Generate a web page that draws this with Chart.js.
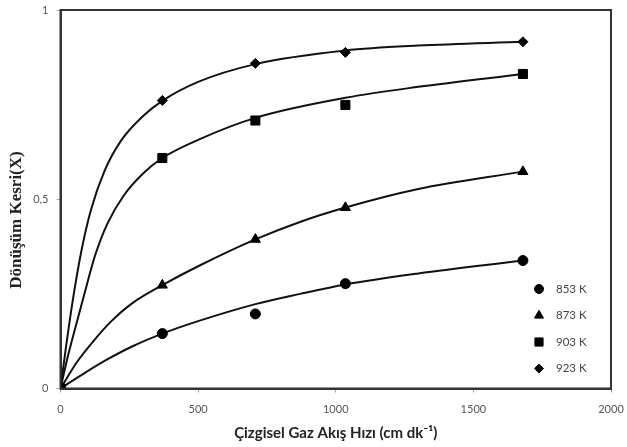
<!DOCTYPE html>
<html>
<head>
<meta charset="utf-8">
<script src="https://cdn.jsdelivr.net/npm/chart.js@4.4.1/dist/chart.umd.min.js"></script>
<style>
  html, body { margin: 0; padding: 0; background: #fff; }
  #kutu { width: 627px; height: 447px; }
</style>
</head>
<body>
<div id="kutu"><canvas id="grafik"></canvas></div>
<script>
// olcum noktalari
const hizlar = [0, 370, 708, 1035, 1680];
const seriler = ['853 K', '873 K', '903 K', '923 K'];
const olcum853 = [0, 0.145, 0.197, 0.277, 0.338];
const olcum873 = [0, 0.273, 0.394, 0.478, 0.573];
const olcum903 = [0, 0.609, 0.708, 0.749, 0.831];
const olcum923 = [0, 0.761, 0.859, 0.888, 0.916];

// fit egrileri (resimden okunan noktalar)
const egriX853 = [0, 90, 173, 260, 370, 500, 708, 870, 1035, 1300, 1680];
const egriY853 = [0, 0.042, 0.078, 0.111, 0.145, 0.178, 0.223, 0.25, 0.275, 0.304, 0.338];
const egriX873 = [0, 60, 125, 185, 260, 370, 500, 708, 870, 1035, 1300, 1680];
const egriY873 = [0, 0.07, 0.13, 0.178, 0.225, 0.273, 0.323, 0.394, 0.44, 0.478, 0.527, 0.573];
const egriX903 = [0, 25, 50, 85, 125, 170, 230, 300, 370, 500, 708, 1035, 1300, 1680];
const egriY903 = [0, 0.08, 0.15, 0.245, 0.35, 0.435, 0.51, 0.568, 0.609, 0.657, 0.715, 0.768, 0.797, 0.831];
const egriX923 = [0, 20, 45, 75, 110, 160, 220, 300, 370, 500, 708, 1035, 1300, 1680];
const egriY923 = [0, 0.11, 0.235, 0.36, 0.47, 0.575, 0.655, 0.72, 0.76, 0.81, 0.857, 0.893, 0.906, 0.916];

const yBaslik = 'Dönüşüm Kesri(X)';
const xBaslik = 'Çizgisel Gaz Akış Hızı (cm dk⁻¹)';

const stiller = ['circle', 'triangle', 'rect', 'rectRot'];
const boyutlar = [5, 5.8, 6.4, 5];

function noktala(xs, ys) {
    return xs.map((x, i) => ({ x: x, y: ys[i] }));
}

const olcumler = [olcum853, olcum873, olcum903, olcum923];
const egriler = [
    [egriX853, egriY853],
    [egriX873, egriY873],
    [egriX903, egriY903],
    [egriX923, egriY923]
];

let datasets = [];
seriler.forEach((ad, i) => {
    datasets.push({
        label: ad,
        data: noktala(hizlar, olcumler[i]),
        pointStyle: stiller[i],
        pointRadius: boyutlar[i],
        backgroundColor: '#000',
        borderColor: '#000',
        borderWidth: 1,
        showLine: false,
        order: 0
    });
    datasets.push({
        label: ad + ' fit',
        data: noktala(egriler[i][0], egriler[i][1]),
        showLine: true,
        pointRadius: 0,
        borderColor: '#111',
        borderWidth: 2,
        cubicInterpolationMode: 'monotone',
        fill: false,
        order: 1
    });
});

// lejant, cerceve ve y basligi
const ozelLejant = {
    id: 'ozelLejant',
    afterDatasetsDraw(chart) {
        const ctx = chart.ctx;
        const ca = chart.chartArea;
        ctx.save();
        seriler.forEach((ad, i) => {
            const y = ca.bottom - 99.5 + i * 26.5;
            const x = ca.right - 72;
            ctx.fillStyle = '#000';
            ctx.strokeStyle = '#000';
            ctx.lineWidth = 1;
            Chart.helpers.drawPoint(ctx, { pointStyle: stiller[i], radius: boyutlar[i] * 0.9, rotation: 0, borderWidth: 1 }, x, y);
            ctx.fillStyle = '#444';
            ctx.font = '11.5px Lato';
            ctx.textBaseline = 'middle';
            ctx.textAlign = 'left';
            ctx.fillText(ad, x + 17, y);
        });
        ctx.strokeStyle = '#333';
        ctx.lineWidth = 2;
        ctx.strokeRect(ca.left, ca.top, ca.right - ca.left, ca.bottom - ca.top);

        // y ekseni basligi (biraz asagida ortalanmis)
        ctx.translate(17, 220);
        ctx.rotate(-Math.PI / 2);
        ctx.fillStyle = '#222';
        ctx.font = 'bold 17px "Liberation Serif"';
        ctx.textAlign = 'center';
        ctx.textBaseline = 'middle';
        ctx.fillText(yBaslik, 0, 0);
        ctx.restore();
    }
};

const grafik = document.getElementById('grafik').getContext('2d');
const myChart = new Chart(grafik, {
    type: 'scatter',
    data: { datasets: datasets },
    plugins: [ozelLejant],
    options: {
        responsive: true,
        maintainAspectRatio: false,
        animation: false,
        layout: { padding: { top: 10, right: 16, left: 0, bottom: 0 } },
        plugins: {
            legend: { display: false },
            tooltip: { enabled: false }
        },
        scales: {
            x: {
                min: 0,
                max: 2000,
                afterFit: (s) => { s.height = 58.5; s.paddingLeft = 0; s.paddingRight = 0; },
                ticks: {
                    stepSize: 500,
                    color: '#555',
                    font: { family: 'Lato', size: 11 },
                    padding: 10,
                    callback: (v) => String(v)
                },
                grid: { drawOnChartArea: false, drawTicks: true, tickLength: 4, color: '#aaa' },
                border: { color: '#333', width: 2 },
                title: {
                    display: true,
                    text: xBaslik,
                    color: '#222',
                    font: { family: 'Lato', size: 15, weight: 'bold' },
                    padding: { top: 0, bottom: 5 }
                }
            },
            y: {
                min: 0,
                max: 1,
                afterFit: (s) => { s.width = 60.5; s.paddingTop = 0; s.paddingBottom = 0; },
                ticks: {
                    stepSize: 0.5,
                    color: '#555',
                    font: { family: 'Lato', size: 11 },
                    padding: 8,
                    callback: (v) => v.toString().replace('.', ',')
                },
                grid: { drawOnChartArea: false, drawTicks: true, tickLength: 4, color: '#aaa' },
                border: { color: '#333', width: 2 }
            }
        }
    }
});
</script>
</body>
</html>
